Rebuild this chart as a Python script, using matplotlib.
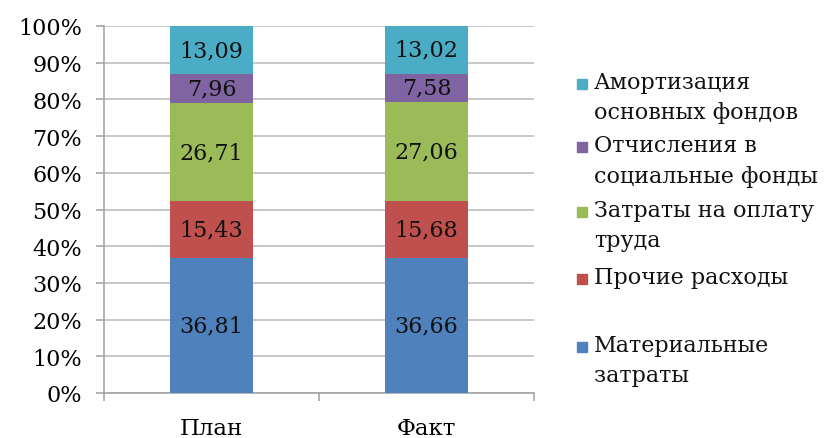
import matplotlib
matplotlib.use("Agg")
import matplotlib.pyplot as plt
from matplotlib.patches import Rectangle
from matplotlib.ticker import FuncFormatter

plt.rcParams['font.family'] = ['DejaVu Serif']

categories = ['План', 'Факт']
series = ['Материальные\nзатраты', 'Прочие расходы', 'Затраты на оплату\nтруда',
          'Отчисления в\nсоциальные фонды', 'Амортизация\nосновных фондов']
values = [
    [36.81, 36.66],
    [15.43, 15.68],
    [26.71, 27.06],
    [7.96, 7.58],
    [13.09, 13.02],
]
labels = [
    ['36,81', '36,66'],
    ['15,43', '15,68'],
    ['26,71', '27,06'],
    ['7,96', '7,58'],
    ['13,09', '13,02'],
]
colors = ['#4F81BD', '#C0504D', '#9BBB59', '#8064A2', '#4BACC6']

W, H = 833, 439
fig = plt.figure(figsize=(W / 100, H / 100), dpi=100)
ax = fig.add_axes([104 / W, 1 - 394 / H, 430 / W, 367 / H])

x = list(range(len(categories)))
bottom = [0.0] * len(categories)
for vals, labs, c in zip(values, labels, colors):
    bars = ax.bar(x, vals, 0.39, bottom=bottom, color=c, zorder=3)
    ax.bar_label(bars, labels=labs, label_type='center', fontsize=16, color='#111111')
    bottom = [b + v for b, v in zip(bottom, vals)]

ax.set_xlim(-0.5, 1.5)
ax.set_ylim(0, 100)
ax.set_yticks(range(0, 101, 10))
ax.yaxis.set_major_formatter(FuncFormatter(lambda v, p: f'{int(v)}%'))
ax.grid(axis='y', color='#BDBDBD', linewidth=1.2, zorder=0)

ax.set_xticks([-0.5, 0.5, 1.5])
ax.set_xticklabels([])
ax.set_xticks(x, minor=True)
ax.set_xticklabels(categories, minor=True, fontsize=16.5)
ax.tick_params(axis='x', which='minor', length=0, pad=17)
ax.tick_params(axis='x', which='major', length=6, color='#A6A6A6', width=1.2)
ax.tick_params(axis='y', length=6, color='#A6A6A6', width=1.2, labelsize=16, pad=10)

for s in ['top', 'right']:
    ax.spines[s].set_visible(False)
for s in ['left', 'bottom']:
    ax.spines[s].set_color('#A6A6A6')
    ax.spines[s].set_linewidth(1.2)

# legend drawn by hand to keep the original uneven spacing
centers = [348, 280, 213, 148, 85]
for name, c, cy in zip(series, colors, centers):
    fig.add_artist(Rectangle((577 / W, 1 - (cy + 5) / H), 10 / W, 10 / H,
                             transform=fig.transFigure, color=c))
    fig.text(594 / W, 1 - (cy - 13) / H, name, fontsize=16, va='top', ha='left',
             linespacing=1.5, color='#111111')

fig.savefig('out.png', dpi=100)
